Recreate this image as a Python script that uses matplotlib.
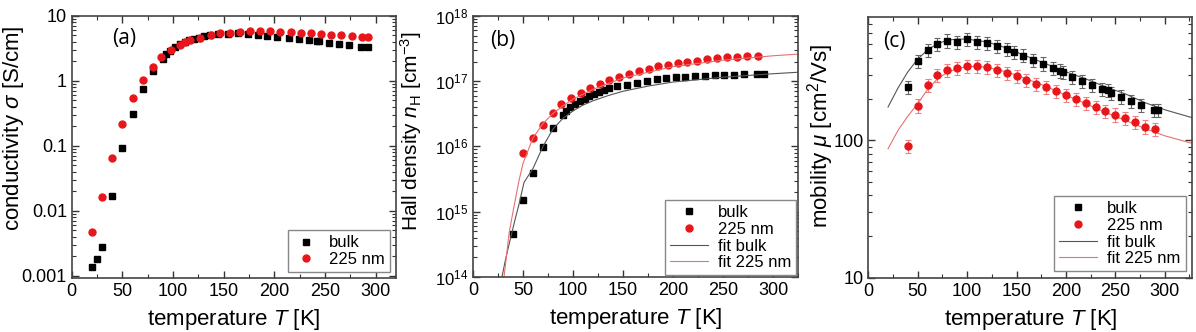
import matplotlib
matplotlib.use("Agg")
import matplotlib.pyplot as plt
from matplotlib.ticker import FixedLocator, FixedFormatter, MultipleLocator, LogLocator, NullFormatter

plt.rcParams['font.family'] = ['Liberation Sans', 'DejaVu Sans']
plt.rcParams['mathtext.fontset'] = 'custom'
plt.rcParams['mathtext.rm'] = 'Liberation Sans'
plt.rcParams['mathtext.it'] = 'Liberation Sans:italic'
plt.rcParams['mathtext.bf'] = 'Liberation Sans:bold'

RED = '#e8161a'

# (a) conductivity
cond_bulk_T = [20, 25, 30, 40, 50, 60, 70, 80, 90, 93, 97, 102, 107, 112, 116, 121, 126, 131, 136, 144,
               154, 164, 174, 184, 193, 203, 214, 224, 234, 242, 244, 254, 264, 274, 286, 292]
cond_bulk = [0.00135, 0.0018, 0.0028, 0.017, 0.092, 0.31, 0.76, 1.40, 2.2, 2.55, 2.85, 3.3, 3.65, 3.95,
             4.2, 4.45, 4.65, 4.85, 5.0, 5.2, 5.35, 5.4, 5.3, 5.15, 4.95, 4.8, 4.6, 4.45, 4.25, 4.1, 4.05,
             3.9, 3.72, 3.55, 3.35, 3.3]
cond_film_T = [20, 30, 40, 50, 60, 70, 80, 88, 98, 107, 112, 117, 127, 137, 146, 156, 166, 176, 186, 196,
               206, 216, 226, 236, 246, 256, 266, 277, 287, 292]
cond_film = [0.0047, 0.0166, 0.066, 0.22, 0.55, 1.05, 1.65, 2.33, 3.0, 3.6, 3.95, 4.3, 4.65, 5.1, 5.4,
             5.55, 5.68, 5.8, 5.82, 5.82, 5.75, 5.65, 5.55, 5.42, 5.3, 5.17, 5.05, 4.9, 4.78, 4.76]

# (b) Hall density
hall_bulk_T = [40, 50, 60, 70, 80, 90, 93, 97, 102, 107, 112, 116, 121, 126, 131, 136, 144, 154, 164, 174,
               184, 193, 203, 212, 222, 232, 242, 251, 261, 271, 284, 291]
hall_bulk = [4.6e14, 1.5e15, 3.9e15, 9.7e15, 1.94e16, 3.0e16, 3.5e16, 4.0e16, 4.5e16, 4.9e16, 5.35e16,
             5.9e16, 6.3e16, 6.8e16, 7.4e16, 7.9e16, 8.3e16, 8.6e16, 9.4e16, 1.01e17, 1.07e17, 1.12e17,
             1.15e17, 1.17e17, 1.2e17, 1.22e17, 1.23e17, 1.24e17, 1.26e17, 1.27e17, 1.29e17, 1.29e17]
hall_film_T = [50, 60, 70, 80, 88, 98, 108, 117, 127, 136, 146, 156, 166, 176, 185, 195, 205, 214, 224,
               234, 244, 254, 264, 274, 285]
hall_film = [7.8e15, 1.35e16, 2.14e16, 3.2e16, 4.4e16, 5.5e16, 6.6e16, 7.9e16, 9.1e16, 1.03e17, 1.15e17,
             1.27e17, 1.42e17, 1.56e17, 1.68e17, 1.78e17, 1.87e17, 1.98e17, 2.06e17, 2.16e17, 2.23e17,
             2.32e17, 2.38e17, 2.42e17, 2.45e17]
hall_fit_bulk_T = [27, 29, 32, 35, 38, 42, 46, 51, 60, 70, 80, 90, 100, 110, 120, 135, 150, 175, 200, 250,
                   300, 325]
hall_fit_bulk = [6e13, 1e14, 1.7e14, 2.7e14, 4.2e14, 7.5e14, 1.3e15, 2.8e15, 4.6e15, 1.0e16, 1.85e16,
                 2.7e16, 3.5e16, 4.3e16, 5.0e16, 6.0e16, 7.0e16, 8.4e16, 9.7e16, 1.15e17, 1.3e17, 1.37e17]
hall_fit_film_T = [29, 31, 33, 36, 40, 46, 50, 60, 70, 80, 90, 100, 120, 150, 200, 250, 300, 325]
hall_fit_film = [6e13, 1e14, 1.8e14, 4.6e14, 1.0e15, 3.0e15, 5.5e15, 1.35e16, 2.25e16, 3.2e16, 4.2e16,
                 5.3e16, 7.5e16, 1.12e17, 1.67e17, 2.1e17, 2.45e17, 2.6e17]

# (c) mobility
mob_bulk_T = [40, 50, 60, 70, 80, 90, 100, 110, 120, 130, 140, 147, 157, 167, 177, 187, 194, 197, 206,
              216, 226, 236, 243, 246, 256, 266, 276, 289, 293]
mob_bulk = [243, 377, 456, 504, 532, 518, 545, 518, 507, 482, 461, 438, 414, 383, 361, 334, 321, 315,
            289, 271, 251, 235, 231, 221, 208, 194, 180, 167, 166]
mob_film_T = [40, 50, 60, 70, 80, 90, 100, 110, 120, 130, 140, 150, 160, 170, 180, 190, 200, 210, 220,
              230, 240, 250, 260, 270, 280, 290]
mob_film = [90.5, 179, 252, 297, 326, 337, 345, 346, 339, 326, 308, 293, 276, 258, 244, 228, 213, 200,
            187, 174, 163, 154, 145, 136, 126, 121]
mob_fit_bulk_T = [20, 30, 40, 50, 60, 70, 80, 90, 100, 120, 140, 160, 180, 200, 220, 240, 260, 280, 300, 328]
mob_fit_bulk = [175, 240, 315, 390, 455, 505, 535, 545, 545, 520, 470, 410, 360, 315, 280, 245, 218,
                188, 167, 146]
mob_fit_film_T = [20, 30, 40, 50, 60, 70, 80, 90, 100, 110, 120, 140, 160, 180, 200, 220, 240, 260, 280,
                  300, 328]
mob_fit_film = [87, 118, 150, 185, 235, 280, 312, 332, 343, 346, 340, 315, 280, 247, 213, 185, 160, 140,
                122, 108, 95]


def style_axes(ax, xmax):
    ax.set_xlim(0, xmax)
    ax.set_yscale('log')
    ax.xaxis.set_major_locator(MultipleLocator(50))
    ax.xaxis.set_minor_locator(MultipleLocator(25))
    ax.tick_params(which='both', direction='in', top=True, right=True, labelsize=13, colors='#333333',
                   labelcolor='black')
    ax.tick_params(which='major', length=5, width=1)
    ax.tick_params(which='minor', length=3, width=0.8)
    for s in ax.spines.values():
        s.set_color('#444444')
        s.set_linewidth(1.2)
    ax.set_xlabel('temperature $T$ [K]', fontsize=16, labelpad=5)
    ax.yaxis.set_minor_locator(LogLocator(base=10, subs=range(2, 10), numticks=20))
    ax.yaxis.set_minor_formatter(NullFormatter())


fig = plt.figure(figsize=(11.96, 3.32), dpi=100)
ax1 = fig.add_axes([0.060, 0.163, 0.271, 0.789])
ax2 = fig.add_axes([0.3955, 0.166, 0.2717, 0.786])
ax3 = fig.add_axes([0.726, 0.163, 0.271, 0.786])

legkw = dict(fontsize=12, loc='lower right', fancybox=False, framealpha=1, edgecolor='#888888',
             labelspacing=0.1, handletextpad=0.6, borderpad=0.3)

# (a)
style_axes(ax1, 320)
ax1.plot(cond_bulk_T, cond_bulk, 's', color='black', ms=4.5, label='bulk')
ax1.plot(cond_film_T, cond_film, 'o', color=RED, ms=5, label='225 nm')
ax1.set_ylim(0.00093, 10)
ax1.yaxis.set_major_locator(FixedLocator([0.001, 0.01, 0.1, 1, 10]))
ax1.yaxis.set_major_formatter(FixedFormatter(['0.001', '0.01', '0.1', '1', '10']))
ax1.set_ylabel('conductivity $\\sigma$ [S/cm]', fontsize=16)
ax1.yaxis.set_label_coords(-0.14, 0.57)
ax1.text(0.125, 0.915, '(a)', transform=ax1.transAxes, fontsize=15, family='Open Sans', va='center')
ax1.legend(handlelength=1.6, borderaxespad=0.35, **legkw)

# (b)
style_axes(ax2, 325)
ax2.plot(hall_bulk_T, hall_bulk, 's', color='black', ms=4.5, label='bulk')
ax2.plot(hall_film_T, hall_film, 'o', color=RED, ms=5, label='225 nm')
ax2.plot(hall_fit_bulk_T, hall_fit_bulk, '-', color='#555555', lw=0.8, label='fit bulk')
ax2.plot(hall_fit_film_T, hall_fit_film, '-', color='#e87070', lw=0.8, label='fit 225 nm')
ax2.set_ylim(1e14, 1e18)
ax2.tick_params(axis='y', labelsize=12)
ax2.set_ylabel('Hall density $n_\\mathrm{H}$ [cm$^{-3}$]', fontsize=15)
ax2.yaxis.set_label_coords(-0.15, 0.56)
ax2.text(0.054, 0.905, '(b)', transform=ax2.transAxes, fontsize=15, family='Open Sans', va='center')
ax2.legend(handlelength=2.3, borderaxespad=0.1, **legkw)

# (c)
style_axes(ax3, 328)
eb1 = ax3.errorbar(mob_bulk_T, mob_bulk, yerr=[0.11 * v for v in mob_bulk], fmt='s', color='black', ms=4.5,
                   ecolor='#666666', elinewidth=0.8, capsize=2, capthick=0.8)
eb2 = ax3.errorbar(mob_film_T, mob_film, yerr=[0.11 * v for v in mob_film], fmt='o', color=RED, ms=5,
                   ecolor='#f08080', elinewidth=0.8, capsize=2, capthick=0.8)
fb, = ax3.plot(mob_fit_bulk_T, mob_fit_bulk, '-', color='#555555', lw=0.8)
ff, = ax3.plot(mob_fit_film_T, mob_fit_film, '-', color='#e87070', lw=0.8)
ax3.set_ylim(10, 790)
ax3.yaxis.set_major_locator(FixedLocator([10, 100]))
ax3.yaxis.set_major_formatter(FixedFormatter(['10', '100']))
ax3.set_ylabel('mobility $\\mu$ [cm$^2$/Vs]', fontsize=16)
ax3.yaxis.set_label_coords(-0.10, 0.545)
ax3.text(0.047, 0.905, '(c)', transform=ax3.transAxes, fontsize=15, family='Open Sans', va='center')
ax3.legend([eb1[0], eb2[0], fb, ff], ['bulk', '225 nm', 'fit bulk', 'fit 225 nm'],
           handlelength=2.3, borderaxespad=0.4, **legkw)

fig.savefig('out.png', dpi=100)
